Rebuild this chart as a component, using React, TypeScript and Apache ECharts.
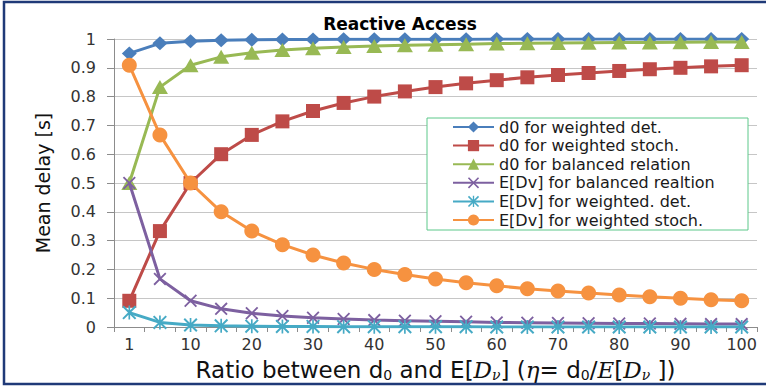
import React, { useEffect, useRef } from "react";
import * as echarts from "echarts";

const categories = ["1", "5", "10", "15", "20", "25", "30", "35", "40", "45", "50", "55", "60", "65", "70", "75", "80", "85", "90", "95", "100"];

const d0WeightedDet = [0.95, 0.985, 0.992, 0.996, 0.997, 0.998, 0.998, 0.999, 0.999, 0.999, 0.999, 0.999, 1, 1, 1, 1, 1, 1, 1, 1, 1];
const d0WeightedStoch = [0.091, 0.333, 0.5, 0.6, 0.667, 0.714, 0.75, 0.778, 0.8, 0.818, 0.833, 0.846, 0.857, 0.867, 0.875, 0.882, 0.889, 0.895, 0.9, 0.905, 0.909];
const d0Balanced = [0.5, 0.833, 0.909, 0.938, 0.952, 0.962, 0.968, 0.972, 0.976, 0.978, 0.98, 0.982, 0.984, 0.985, 0.986, 0.987, 0.988, 0.988, 0.989, 0.99, 0.99];
const eBalanced = [0.5, 0.167, 0.091, 0.063, 0.048, 0.038, 0.032, 0.028, 0.024, 0.022, 0.02, 0.018, 0.016, 0.015, 0.014, 0.013, 0.012, 0.012, 0.011, 0.01, 0.01];
const eWeightedDet = [0.05, 0.016, 0.007, 0.004, 0.003, 0.002, 0.002, 0.001, 0.001, 0.001, 0.001, 0.001, 0, 0, 0, 0, 0, 0, 0, 0, 0];
const eWeightedStoch = [0.909, 0.667, 0.5, 0.4, 0.333, 0.286, 0.25, 0.222, 0.2, 0.182, 0.167, 0.154, 0.143, 0.133, 0.125, 0.118, 0.111, 0.105, 0.1, 0.095, 0.091];

const seriesNames = [
  "d0 for weighted det.",
  "d0 for weighted stoch.",
  "d0 for balanced relation",
  "E[Dv] for balanced realtion",
  "E[Dv] for weighted. det.",
  "E[Dv] for weighted stoch.",
];

const FONT = "DejaVu Sans";
const SERIF = "DejaVu Serif";

const X_PATH = "path://M0,1 L1,0 L10,9 L9,10 Z M9,0 L10,1 L1,10 L0,9 Z";
const STAR_PATH = "path://M0,1 L1,0 L10,9 L9,10 Z M9,0 L10,1 L1,10 L0,9 Z M4.4,0 L5.6,0 L5.6,10 L4.4,10 Z";

export default function App() {
  const ref = useRef<HTMLDivElement>(null);
  useEffect(() => {
    if (!ref.current) return;
    const chart = echarts.init(ref.current, undefined, { renderer: "svg" });
    const mk = (name: string, data: number[], color: string, symbol: string, size: any, z: number) => ({
      name,
      type: "line",
      data,
      symbol,
      symbolSize: size,
      z,
      lineStyle: { color, width: 3 },
      itemStyle: { color },
      emphasis: { disabled: true },
    });
    chart.setOption({
      animation: false,
      backgroundColor: "#ffffff",
      title: {
        text: "Reactive Access",
        left: 395,
        top: 10,
        textAlign: "center",
        textStyle: { fontFamily: FONT, fontSize: 17, fontWeight: "bold", color: "#000" },
      },
      grid: { left: 114, right: 9, top: 39, bottom: 58 },
      legend: {
        orient: "vertical",
        left: 452,
        top: 119,
        padding: 0,
        z: 40,
        itemWidth: 41,
        itemHeight: 14,
        itemGap: 2.6,
        textStyle: { fontFamily: FONT, fontSize: 16, color: "#1a1a1a", lineHeight: 16 },
        data: seriesNames,
      },
      xAxis: {
        type: "category",
        data: categories,
        boundaryGap: true,
        axisLine: { lineStyle: { color: "#8c8c8c", width: 1 } },
        axisTick: { show: true, interval: 0, length: 5, lineStyle: { color: "#8c8c8c" } },
        axisLabel: { interval: 1, fontFamily: FONT, fontSize: 16, color: "#333", margin: 9 },
        splitLine: { show: false },
        name: "Ratio between d{sub|0} and E[{it|D}{itsub|ν}] ({it|η}= d{sub|0}/{it|E}[{it|D}{itsub|ν} ])",
        nameLocation: "middle",
        nameGap: 31,
        nameTextStyle: {
          fontFamily: FONT,
          fontSize: 23,
          color: "#111",
          rich: {
            sub: { fontFamily: FONT, fontSize: 14, color: "#111", verticalAlign: "bottom", padding: [10, 0, 0, 0] },
            it: { fontFamily: SERIF, fontStyle: "italic", fontSize: 23, color: "#111" },
            itsub: { fontFamily: SERIF, fontStyle: "italic", fontSize: 14, color: "#111", verticalAlign: "bottom", padding: [10, 0, 0, 0] },
          },
        },
      },
      yAxis: {
        type: "value",
        min: 0,
        max: 1,
        interval: 0.1,
        axisLine: { show: true, lineStyle: { color: "#8c8c8c", width: 1 } },
        axisTick: { show: true, length: 7, lineStyle: { color: "#8c8c8c" } },
        axisLabel: {
          fontFamily: FONT,
          fontSize: 16,
          color: "#333",
          margin: 18,
          formatter: (v: number) => String(+v.toFixed(1)),
        },
        splitLine: { show: true, lineStyle: { color: "#c6c6c6", width: 1 } },
        name: "Mean delay [s]",
        nameLocation: "middle",
        nameRotate: 90,
        nameGap: 62,
        nameTextStyle: { fontFamily: FONT, fontSize: 19, color: "#111" },
      },
      graphic: [
        {
          type: "rect",
          shape: { x: 427, y: 118, width: 321, height: 112 },
          style: { fill: "#ffffff", stroke: "#5cc88a", lineWidth: 1 },
          z: 20,
        },
        {
          type: "rect",
          shape: { x: 4, y: 2, width: 800, height: 382 },
          style: { fill: "none", stroke: "#1f3a78", lineWidth: 2.5 },
          z: 100,
          silent: true,
        },
      ],
      series: [
        mk(seriesNames[0], d0WeightedDet, "#4a7ebb", "diamond", [15, 14], 2),
        mk(seriesNames[1], d0WeightedStoch, "#be4b48", "rect", 14, 3),
        mk(seriesNames[2], d0Balanced, "#98b954", "triangle", [16, 14], 4),
        mk(seriesNames[3], eBalanced, "#7d60a0", X_PATH, 13, 5),
        mk(seriesNames[4], eWeightedDet, "#46aac5", STAR_PATH, 14, 6),
        mk(seriesNames[5], eWeightedStoch, "#f69240", "circle", 15, 7),
      ],
    });
    return () => chart.dispose();
  }, []);
  return (
    <div style={{ position: "fixed", left: 0, top: 0, width: 766, height: 387 }}>
      <div ref={ref} style={{ width: 766, height: 387 }} />
    </div>
  );
}
